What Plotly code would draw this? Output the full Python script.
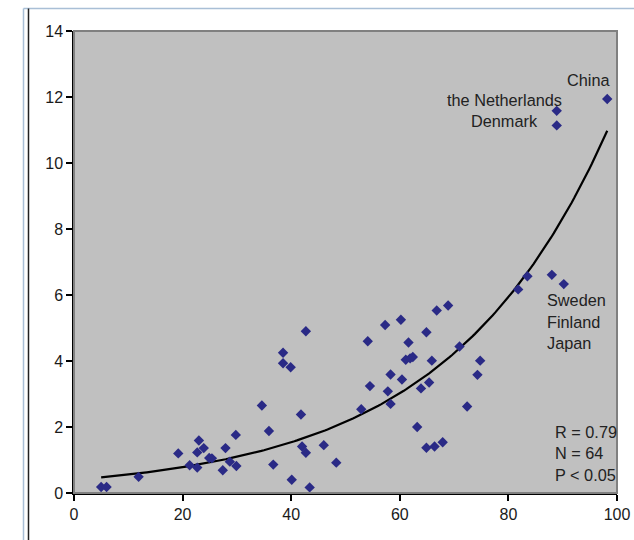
import numpy as np
import plotly.graph_objects as go

# Data
x_vals = [5.0, 6.0, 11.9, 19.2, 21.3, 22.7, 23.0, 22.7, 23.9, 24.9, 25.4, 27.4, 27.9, 28.7, 29.8, 29.9,
          34.6, 35.9, 36.7, 38.5, 38.5, 39.9, 40.1, 41.8, 42.0, 42.7, 42.7, 43.4, 46.0, 48.3,
          52.9, 54.1, 54.5, 57.3, 57.8, 58.3, 58.3, 60.2, 60.4, 61.1, 61.6, 61.9, 62.4,
          63.2, 63.9, 64.9, 64.9, 65.4, 65.9, 66.4, 66.8, 67.9, 68.9, 71.0, 72.4, 74.3, 74.8,
          81.8, 83.5, 88.0, 90.2, 98.2, 88.9, 88.9]
y_vals = [0.18, 0.18, 0.49, 1.20, 0.84, 1.23, 1.59, 0.77, 1.36, 1.06, 1.05, 0.69, 1.36, 0.95, 1.76, 0.82,
          2.65, 1.88, 0.86, 4.25, 3.93, 3.81, 0.40, 2.38, 1.41, 1.22, 4.90, 0.17, 1.45, 0.92,
          2.54, 4.60, 3.24, 5.09, 3.08, 2.70, 3.59, 5.25, 3.44, 4.04, 4.56, 4.08, 4.12,
          2.00, 3.17, 4.87, 1.37, 3.35, 4.01, 1.41, 5.53, 1.54, 5.68, 4.44, 2.62, 3.58, 4.01,
          6.17, 6.57, 6.61, 6.33, 11.94, 11.58, 11.14]

x_ticks = [0, 20, 40, 60, 80, 100]
y_ticks = [0, 2, 4, 6, 8, 10, 12, 14]

country_labels = ["China", "the Netherlands", "Denmark"]
country_label_x = [99.0, 90.2, 85.9]
country_label_y = [12.51, 11.90, 11.28]

right_labels = ["Sweden", "Finland", "Japan"]
right_label_y = [5.85, 5.19, 4.54]
right_label_x = 86.7

left_labels = ["Azerbaijan", "Nigeria"]
left_label_y = [1.29, 0.64]
left_label_x = -4.8

stats_labels = ["R = 0.79", "N = 64", "P < 0.05"]
stats_y = [1.86, 1.21, 0.55]
stats_x = 88.3

# Exponential trendline (least squares on ln y, as a spreadsheet does)
xa = np.array(x_vals)
ya = np.array(y_vals)
b, ln_a = np.polyfit(xa, np.log(ya), 1)
trend_x = np.linspace(xa.min(), xa.max(), 200)
trend_y = np.exp(ln_a) * np.exp(b * trend_x)

fig = go.Figure()
fig.add_trace(go.Scatter(x=trend_x, y=trend_y, mode="lines",
                         line=dict(color="black", width=2.2), hoverinfo="skip"))
fig.add_trace(go.Scatter(x=x_vals, y=y_vals, mode="markers",
                         marker=dict(symbol="diamond", size=8, color="#2a2a86"),
                         cliponaxis=False))

font = dict(family="Liberation Sans, Arial, sans-serif", size=16.3, color="#222222")
anns = []
for t, xx, yy in zip(country_labels, country_label_x, country_label_y):
    anns.append(dict(x=xx, y=yy, text=t, xanchor="right", yanchor="middle"))
for t, yy in zip(right_labels, right_label_y):
    anns.append(dict(x=right_label_x, y=yy, text=t, xanchor="left", yanchor="middle"))
for t, yy in zip(left_labels, left_label_y):
    anns.append(dict(x=left_label_x, y=yy, text=t, xanchor="left", yanchor="middle"))
for t, yy in zip(stats_labels, stats_y):
    anns.append(dict(x=stats_x, y=yy, text=t, xanchor="left", yanchor="middle"))
for a in anns:
    a.update(xref="x", yref="y", showarrow=False, font=font)

shapes = [
    # plot area border (gray, top/right)
    dict(type="rect", xref="paper", yref="paper", x0=0, y0=0, x1=1, y1=1,
         line=dict(color="#808080", width=2), layer="above"),
    # outer frame lines
    dict(type="line", xref="paper", yref="paper", x0=-0.093, x1=1.04, y0=1.0487, y1=1.0487,
         line=dict(color="#a9bfd6", width=1.5)),
    dict(type="line", xref="paper", yref="paper", x0=-0.093, x1=-0.093, y0=1.0487, y1=-0.11,
         line=dict(color="#a9bfd6", width=1.5)),
    dict(type="line", xref="paper", yref="paper", x0=-0.0838, x1=-0.0838, y0=1.0487, y1=-0.11,
         line=dict(color="#222222", width=1.5)),
]

tick_font = dict(family="Liberation Sans, Arial, sans-serif", size=16, color="#1a1a1a")
fig.update_layout(
    width=642, height=540,
    margin=dict(l=74, r=17, t=31, b=47),
    paper_bgcolor="white", plot_bgcolor="#c0c0c0",
    showlegend=False,
    annotations=anns, shapes=shapes,
    xaxis=dict(range=[0, 100], tickvals=x_ticks, ticks="outside", ticklen=6, tickwidth=1.5,
               tickcolor="black", showline=True, linecolor="black", linewidth=1.5,
               showgrid=False, zeroline=False, tickfont=tick_font, layer="above traces"),
    yaxis=dict(range=[0, 14], tickvals=y_ticks, ticks="outside", ticklen=6, tickwidth=1.5,
               tickcolor="black", showline=True, linecolor="black", linewidth=1.5,
               showgrid=False, zeroline=False, tickfont=tick_font, layer="above traces"),
)
fig.write_html("out.html", config={"displayModeBar": False},
               post_script="document.body.style.margin='0';document.body.style.overflow='hidden';")
